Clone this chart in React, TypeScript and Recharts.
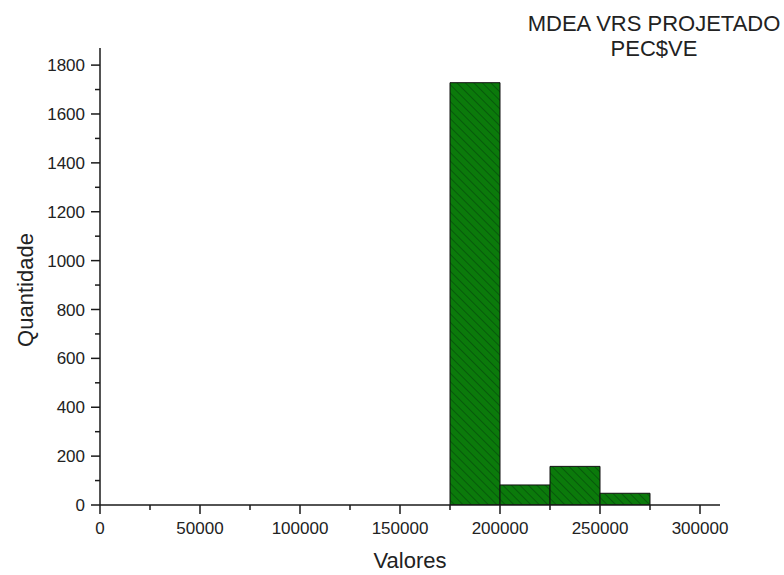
import React from 'react';
import { BarChart, Bar, XAxis, YAxis } from 'recharts';

// histogram bins (lower edge) and counts
const binStarts = [175000, 200000, 225000, 250000];
const counts = [1728, 82, 158, 48];
const binWidth = 25000;

const xTicks = [0, 25000, 50000, 75000, 100000, 125000, 150000, 175000, 200000, 225000, 250000, 275000, 300000];
const yTicks = [0, 100, 200, 300, 400, 500, 600, 700, 800, 900, 1000, 1100, 1200, 1300, 1400, 1500, 1600, 1700, 1800];

const titleLines = ['MDEA VRS PROJETADO', 'PEC$VE'];

const data = binStarts.map((s, i) => ({ mid: s + binWidth / 2, count: counts[i] }));

const font = 'Arial, "Liberation Sans", sans-serif';
const axisColor = '#1a1a1a';
const TICK_SIZE = 8;
const TICK_MARGIN = 6;

const XTick = (props: any) => {
  const { x, y, payload } = props;
  const major = payload.value % 50000 === 0;
  const axisY = y - TICK_SIZE - TICK_MARGIN;
  return (
    <g>
      <line x1={x} x2={x} y1={axisY} y2={axisY + (major ? 9 : 5)} stroke={axisColor} strokeWidth={1.5} />
      {major && (
        <text x={x} y={axisY + 29} textAnchor="middle" fontSize={17} fontFamily={font} fill="#222">
          {payload.value}
        </text>
      )}
    </g>
  );
};

const YTick = (props: any) => {
  const { x, y, payload } = props;
  const major = payload.value % 200 === 0;
  const axisX = x + TICK_SIZE + TICK_MARGIN;
  return (
    <g>
      <line x1={axisX - (major ? 9 : 5)} x2={axisX} y1={y} y2={y} stroke={axisColor} strokeWidth={1.5} />
      {major && (
        <text x={axisX - 15} y={y} dy="0.36em" textAnchor="end" fontSize={17} fontFamily={font} fill="#222">
          {payload.value}
        </text>
      )}
    </g>
  );
};

export default function App() {
  return (
    <div style={{ position: 'absolute', left: 0, top: 0, width: 784, height: 575, background: '#fff' }}>
      <BarChart
        width={784}
        height={575}
        data={data}
        margin={{ top: 48, right: 64, left: 40, bottom: 40 }}
        barCategoryGap={0}
        barGap={0}
      >
        <defs>
          <pattern id="hatch" patternUnits="userSpaceOnUse" width="6" height="6" patternTransform="rotate(-45)">
            <rect width="6" height="6" fill="#0b7a0b" />
            <line x1="0" y1="0" x2="0" y2="6" stroke="#05520a" strokeWidth="1.6" />
          </pattern>
        </defs>
        <XAxis
          dataKey="mid"
          type="number"
          domain={[0, 310000]}
          ticks={xTicks}
          interval={0}
          height={30}
          tickSize={TICK_SIZE}
          tickMargin={TICK_MARGIN}
          tickLine={false}
          tick={<XTick />}
          axisLine={{ stroke: axisColor, strokeWidth: 1.5 }}
          allowDataOverflow
        />
        <YAxis
          type="number"
          domain={[0, 1870]}
          ticks={yTicks}
          interval={0}
          width={60}
          tickSize={TICK_SIZE}
          tickMargin={TICK_MARGIN}
          tickLine={false}
          tick={<YTick />}
          axisLine={{ stroke: axisColor, strokeWidth: 1.5 }}
          allowDataOverflow
        />
        <Bar
          dataKey="count"
          fill="url(#hatch)"
          stroke="#111"
          strokeWidth={1}
          isAnimationActive={false}
        />
        <text x={410} y={568} textAnchor="middle" fontSize={22} fontFamily={font} fill="#222">
          Valores
        </text>
        <text
          x={33}
          y={290}
          textAnchor="middle"
          fontSize={22}
          fontFamily={font}
          fill="#222"
          transform="rotate(-90 33 290)"
        >
          Quantidade
        </text>
        {titleLines.map((t, i) => (
          <text key={t} x={654} y={31 + i * 25} textAnchor="middle" fontSize={22} fontFamily={font} fill="#222">
            {t}
          </text>
        ))}
      </BarChart>
    </div>
  );
}
